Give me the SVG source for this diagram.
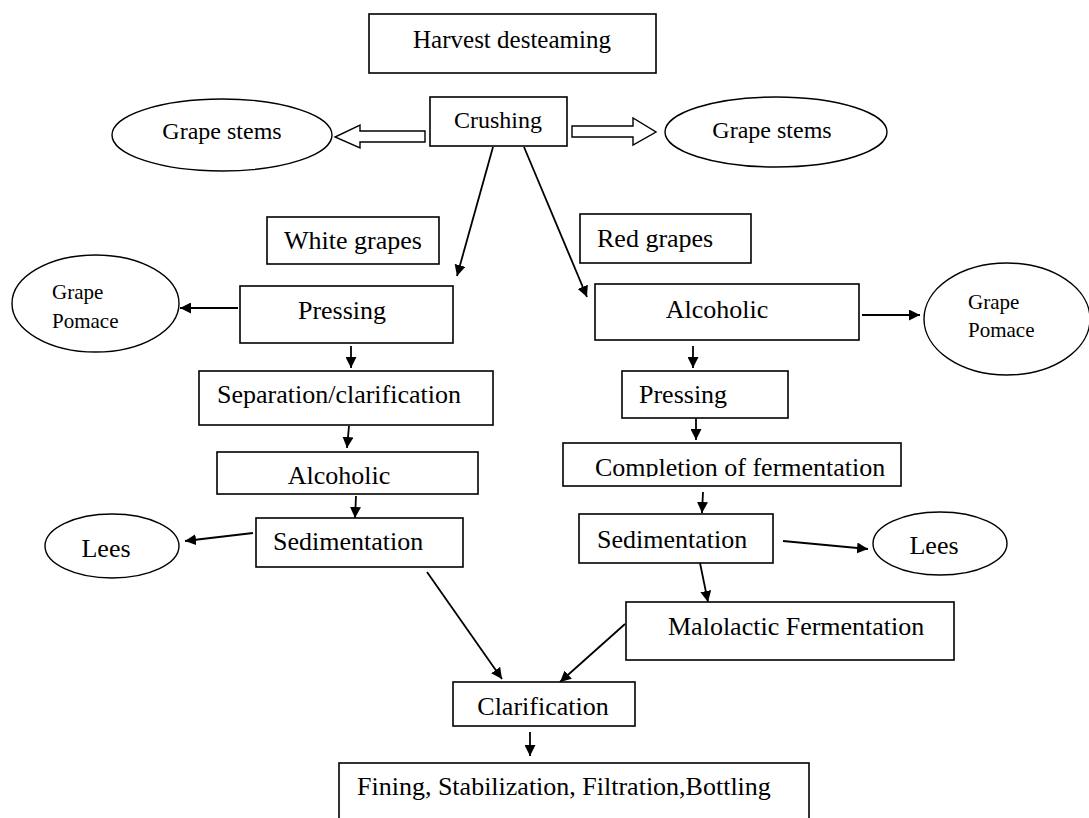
<svg xmlns="http://www.w3.org/2000/svg" width="1089" height="818" viewBox="0 0 1089 818">
<style>
.box{fill:#fff;stroke:#000;stroke-width:1.6}
.ell{fill:#fff;stroke:#000;stroke-width:1.4}
text{font-family:'Liberation Serif','Times New Roman','DejaVu Serif',Times,serif;fill:#000}
.t{font-size:26px}
.ts{font-size:24px}
.tp{font-size:21px}
.c{text-anchor:middle}
.ln{stroke:#000;stroke-width:1.8;fill:none;marker-end:url(#ah)}
.blk{fill:#fff;stroke:#000;stroke-width:1.4}
</style>
<defs>
<marker id="ah" markerUnits="userSpaceOnUse" markerWidth="12" markerHeight="11" refX="11" refY="5.5" orient="auto">
<path d="M0,0 L11,5.5 L0,11 z" fill="#000"/>
</marker>
<clipPath id="clipComp"><rect x="563" y="443" width="338" height="34"/></clipPath>
</defs>
<rect width="1089" height="818" fill="#fff"/>
<g id="connectors">
<polygon class="blk" points="425,131 360,131 360,125 335,137 360,148 360,142 425,142"/>
<polygon class="blk" points="572,126 633,126 633,118 656,132 633,145 633,137 572,137"/>
<line class="ln" x1="493" y1="147" x2="457" y2="276"/>
<line class="ln" x1="524" y1="147" x2="587" y2="297"/>
<line class="ln" x1="238" y1="308" x2="180" y2="308"/>
<line class="ln" x1="351" y1="346" x2="351" y2="368"/>
<line class="ln" x1="349" y1="426" x2="347" y2="448"/>
<line class="ln" x1="356" y1="496" x2="355" y2="518"/>
<line class="ln" x1="253" y1="533" x2="185" y2="541"/>
<line class="ln" x1="427" y1="572" x2="502" y2="679"/>
<line class="ln" x1="862" y1="315" x2="920" y2="315"/>
<line class="ln" x1="693" y1="346" x2="693" y2="368"/>
<line class="ln" x1="696" y1="418" x2="696" y2="440"/>
<line class="ln" x1="703" y1="492" x2="702" y2="513"/>
<line class="ln" x1="783" y1="541" x2="868" y2="549"/>
<line class="ln" x1="700" y1="563" x2="708" y2="602"/>
<line class="ln" x1="625" y1="624" x2="560" y2="682"/>
<line class="ln" x1="530" y1="732" x2="530" y2="756"/>
</g>
<g id="harvest"><rect class="box" x="369" y="14" width="287" height="59"/><text class="t c" x="512" y="48" style="font-size:25px">Harvest desteaming</text></g>
<g id="crushing"><rect class="box" x="430" y="97" width="137" height="49"/><text class="ts c" x="498" y="128">Crushing</text></g>
<g id="stems-left"><ellipse class="ell" cx="222" cy="135" rx="110" ry="36"/><text class="ts c" x="222" y="139">Grape stems</text></g>
<g id="stems-right"><ellipse class="ell" cx="776" cy="132" rx="111" ry="35"/><text class="ts c" x="772" y="138">Grape stems</text></g>
<g id="white-grapes"><rect class="box" x="267" y="217" width="172" height="47"/><text class="t c" x="353" y="249">White grapes</text></g>
<g id="red-grapes"><rect class="box" x="580" y="214" width="171" height="49"/><text class="t" x="597" y="247">Red grapes</text></g>
<g id="pressing-white"><rect class="box" x="240" y="286" width="213" height="57"/><text class="t c" x="342" y="319">Pressing</text></g>
<g id="pomace-left"><ellipse class="ell" cx="95.5" cy="303.5" rx="83.5" ry="48.5"/><text class="tp" x="52" y="299">Grape</text><text class="tp" x="52" y="328">Pomace</text></g>
<g id="alcoholic-red"><rect class="box" x="595" y="284" width="264" height="56"/><text class="t c" x="717" y="318">Alcoholic</text></g>
<g id="pomace-right"><ellipse class="ell" cx="1007" cy="319" rx="83" ry="56"/><text class="tp" x="968" y="309">Grape</text><text class="tp" x="968" y="337">Pomace</text></g>
<g id="separation"><rect class="box" x="199" y="371" width="294" height="54"/><text class="t" x="217" y="403">Separation/clarification</text></g>
<g id="pressing-red"><rect class="box" x="622" y="371" width="166" height="47"/><text class="t" x="639" y="403">Pressing</text></g>
<g id="alcoholic-white"><rect class="box" x="217" y="452" width="261" height="42"/><text class="t c" x="339" y="484">Alcoholic</text></g>
<g id="completion"><rect class="box" x="563" y="443" width="338" height="43"/><text class="t" x="595" y="476" clip-path="url(#clipComp)">Completion of fermentation</text></g>
<g id="sed-white"><rect class="box" x="256" y="518" width="207" height="49"/><text class="t" x="273" y="550">Sedimentation</text></g>
<g id="lees-left"><ellipse class="ell" cx="112" cy="546" rx="67" ry="32"/><text class="t c" x="106" y="557">Lees</text></g>
<g id="sed-red"><rect class="box" x="579" y="514" width="194" height="49"/><text class="t" x="597" y="548">Sedimentation</text></g>
<g id="lees-right"><ellipse class="ell" cx="940" cy="543.5" rx="67" ry="31.5"/><text class="t c" x="934" y="554">Lees</text></g>
<g id="malolactic"><rect class="box" x="626" y="602" width="328" height="58"/><text class="t" x="668" y="635">Malolactic Fermentation</text></g>
<g id="clarification"><rect class="box" x="453" y="682" width="182" height="44"/><text class="t c" x="543" y="715">Clarification</text></g>
<g id="fining"><rect class="box" x="339" y="763" width="470" height="70"/><text class="t" x="357" y="795">Fining, Stabilization, Filtration,Bottling</text></g>
</svg>
